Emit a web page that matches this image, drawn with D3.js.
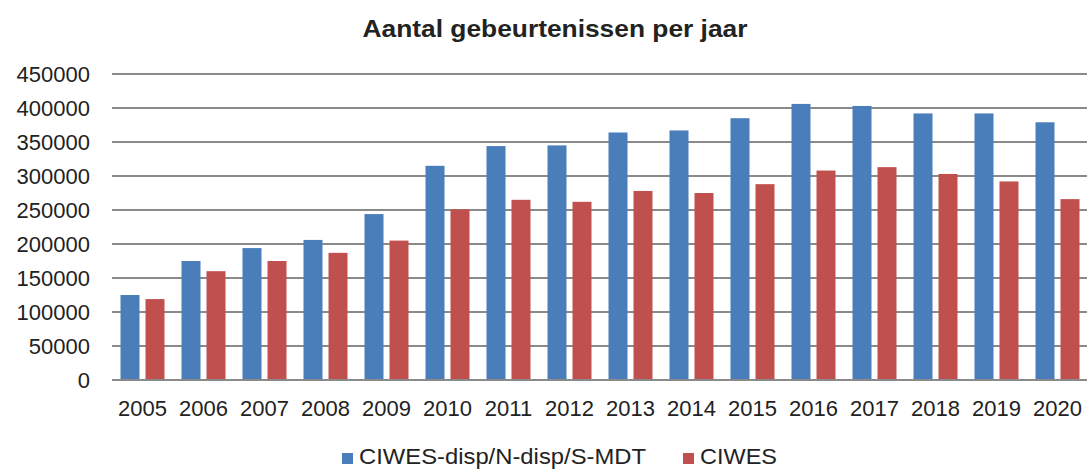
<!DOCTYPE html>
<html>
<head>
<meta charset="utf-8">
<script src="https://cdn.jsdelivr.net/npm/d3@7"></script>
<style>
  body { margin: 0; background: #fff; }
  text { font-family: "Liberation Sans", Arial, sans-serif; fill: #222; }
</style>
</head>
<body>
<div id="chartArea"></div>
<script>
const years = ["2005","2006","2007","2008","2009","2010","2011","2012","2013","2014","2015","2016","2017","2018","2019","2020"];
const seriesNames = ["CIWES-disp/N-disp/S-MDT", "CIWES"];
const dispValues = [125000,175000,194000,206000,244000,315000,344000,345000,364000,367000,385000,406000,403000,392000,392000,379000];
const ciwesValues = [119000,160000,175000,187000,205000,251000,265000,262000,278000,275000,288000,308000,313000,303000,292000,266000];
const yTicks = [0,50000,100000,150000,200000,250000,300000,350000,400000,450000];
const colors = ["#4a7ebb", "#c0504d"];

const width = 1087, height = 470;
const svg = d3.select("#chartArea")
              .append("svg")
              .attr("width", width)
              .attr("height", height);

// title
svg.append("text")
   .attr("x", 555)
   .attr("y", 37)
   .attr("text-anchor", "middle")
   .attr("textLength", 385)
   .attr("lengthAdjust", "spacingAndGlyphs")
   .style("font-size", "24px")
   .style("font-weight", "700")
   .text("Aantal gebeurtenissen per jaar");

const xScale = d3.scaleBand()
                 .domain(years)
                 .range([112, 1088])
                 .padding(0);

const x1 = d3.scaleBand()
             .domain(seriesNames)
             .range([8.5, 52.5])
             .paddingInner(0.24);

const yScale = d3.scaleLinear()
                 .domain([0, 450000])
                 .range([380, 74]); // omgekeerd voor svg

// gridlines
svg.append("g")
   .selectAll("line")
   .data(yTicks)
   .join("line")
   .attr("x1", 112)
   .attr("x2", 1087)
   .attr("y1", d => yScale(d))
   .attr("y2", d => yScale(d))
   .attr("stroke", "#8a8a8a")
   .attr("stroke-width", 2);

// y axis labels
const yAxis = d3.axisLeft(yScale).tickValues(yTicks).tickSize(0).tickPadding(0).tickFormat(d3.format("d"));
svg.append("g")
   .attr("transform", "translate(90,0)")
   .call(yAxis)
   .call(g => g.select(".domain").remove())
   .selectAll("text")
   .style("font-size", "22px")
   .style("font-family", "'Liberation Sans', Arial, sans-serif")
   .attr("fill", "#222");

// bars
const rows = years.map((y, i) => ({year: y, values: [dispValues[i], ciwesValues[i]]}));
const groups = svg.append("g")
                  .selectAll("g")
                  .data(rows)
                  .join("g")
                  .attr("transform", d => `translate(${xScale(d.year)},0)`);
groups.selectAll("rect")
      .data(d => d.values.map((v, k) => ({name: seriesNames[k], value: v, k: k})))
      .join("rect")
      .attr("x", d => x1(d.name))
      .attr("width", x1.bandwidth())
      .attr("y", d => yScale(d.value))
      .attr("height", d => yScale(0) - yScale(d.value))
      .attr("fill", d => colors[d.k]);

// baseline
svg.append("line")
   .attr("x1", 112).attr("x2", 1087)
   .attr("y1", yScale(0)).attr("y2", yScale(0))
   .attr("stroke", "#8a8a8a")
   .attr("stroke-width", 2);

// x axis labels
const xAxis = d3.axisBottom(xScale).tickSize(0).tickPadding(0);
svg.append("g")
   .attr("transform", "translate(0,400)")
   .call(xAxis)
   .call(g => g.select(".domain").remove())
   .selectAll("text")
   .attr("dy", "0.71em")
   .style("font-size", "22px")
   .style("font-family", "'Liberation Sans', Arial, sans-serif")
   .attr("fill", "#222");

// legend
const legendPos = [342, 683];
const legendWidths = [287, 77];
const legend = svg.append("g")
                  .selectAll("g")
                  .data(seriesNames)
                  .join("g")
                  .attr("transform", (d, i) => `translate(${legendPos[i]},0)`);
legend.append("rect")
      .attr("x", 0).attr("y", 453)
      .attr("width", 11).attr("height", 11)
      .attr("fill", (d, i) => colors[i]);
legend.append("text")
      .attr("x", 17).attr("y", 464)
      .attr("textLength", (d, i) => legendWidths[i])
      .attr("lengthAdjust", "spacingAndGlyphs")
      .style("font-size", "22px")
      .text(d => d);
</script>
</body>
</html>
